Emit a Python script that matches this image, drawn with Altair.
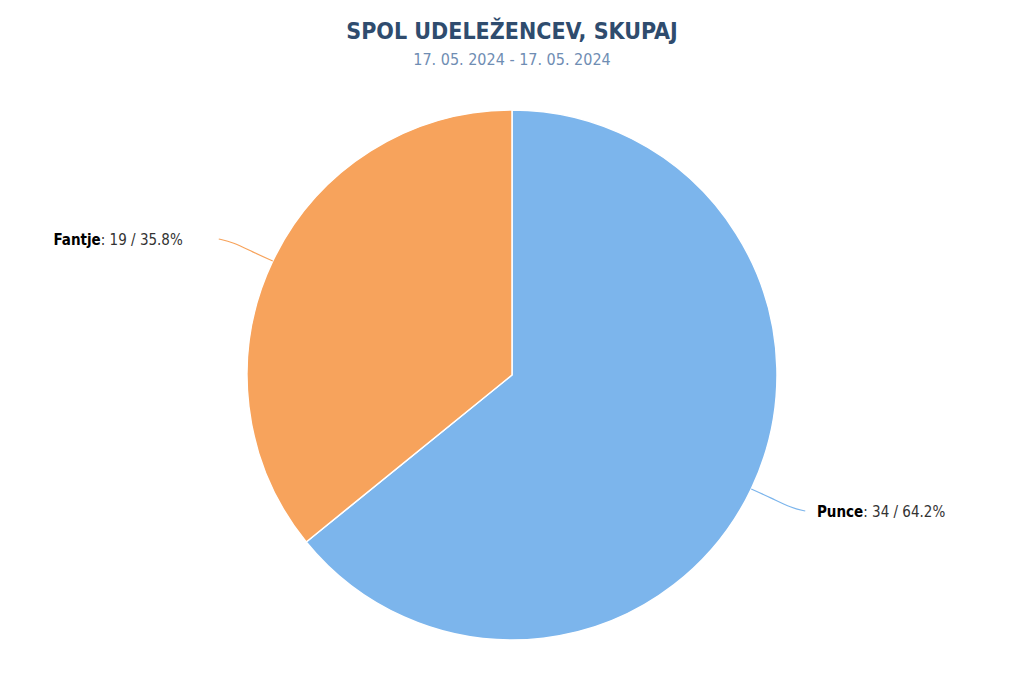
import math
import altair as alt
import pandas as pd

# ---- data ----
categories = ["Punce", "Fantje"]
counts = [34, 19]
percents = ["64.2%", "35.8%"]
colors = ["#7cb5ec", "#f7a35c"]

title_text = "SPOL UDELEŽENCEV, SKUPAJ"
subtitle_text = "17. 05. 2024 - 17. 05. 2024"

FONT = "Liberation Sans Narrow, DejaVu Sans Condensed, sans-serif"

W, H = 1008, 667
CX, CY, R = 504, 367, 265

total = sum(counts)
pie_df = pd.DataFrame({"cat": categories, "n": counts, "ord": list(range(len(categories)))})

pie = alt.Chart(pie_df).mark_arc(stroke="white", strokeWidth=1.5).encode(
    theta=alt.Theta("n:Q", stack=True),
    order=alt.Order("ord:Q"),
    color=alt.Color("cat:N", scale=alt.Scale(domain=categories, range=colors), legend=None),
    x=alt.value(CX), y=alt.value(CY), radius=alt.value(R),
)

# ---- connectors computed from slice mid-angles ----
rows = []
lab_rows = []
cum = 0
for i, (c, n, p) in enumerate(zip(categories, counts, percents)):
    a0 = cum / total * 2 * math.pi
    cum += n
    a1 = cum / total * 2 * math.pi
    am = (a0 + a1) / 2
    sx, sy = math.sin(am), -math.cos(am)
    ex, ey = CX + R * sx, CY + R * sy
    side = 1 if sx > 0 else -1
    vs = 1 if sy > 0 else -1
    p1 = (ex + side * 20, ey + 9 * vs)
    p2 = (ex + side * 40, ey + 19 * vs)
    p3 = (ex + side * 54, ey + 22 * vs)
    for k, (px, py) in enumerate([(ex, ey), p1, p2, p3]):
        rows.append({"cat": c, "k": k, "x": px, "y": py})
    ly = p3[1] + 1
    split = p3[0] + 58 if side > 0 else p3[0] - 118
    lab_rows.append({"cat": c, "bold": c, "rest": f": {n} / {p}", "split": split, "y": ly})

conn_df = pd.DataFrame(rows)
lab_df = pd.DataFrame(lab_rows)

xs = alt.Scale(domain=[0, W], range=[0, W], nice=False, zero=False)
ys = alt.Scale(domain=[0, H], range=[0, H], nice=False, zero=False)

conn = alt.Chart(conn_df).mark_line(strokeWidth=1.2, interpolate="basis").encode(
    x=alt.X("x:Q", scale=xs, axis=None),
    y=alt.Y("y:Q", scale=ys, axis=None),
    detail="cat:N",
    order="k:Q",
    color=alt.Color("cat:N", scale=alt.Scale(domain=categories, range=colors), legend=None),
)

bold_t = alt.Chart(lab_df).mark_text(
    align="right", baseline="middle", font=FONT, fontSize=15, fontWeight="bold", color="#000000"
).encode(x=alt.X("split:Q", scale=xs, axis=None), y=alt.Y("y:Q", scale=ys, axis=None), text="bold:N")

rest_t = alt.Chart(lab_df).mark_text(
    align="left", baseline="middle", font=FONT, fontSize=15, color="#333333"
).encode(x=alt.X("split:Q", scale=xs, axis=None), y=alt.Y("y:Q", scale=ys, axis=None), text="rest:N")

title_df = pd.DataFrame({"t": [title_text], "s": [subtitle_text]})
title_m = alt.Chart(title_df).mark_text(
    align="center", baseline="middle", font=FONT, fontSize=23, fontWeight="bold", color="#2f4c6e"
).encode(x=alt.value(CX), y=alt.value(24), text="t:N")
sub_m = alt.Chart(title_df).mark_text(
    align="center", baseline="middle", font=FONT, fontSize=16, color="#6f8db3"
).encode(x=alt.value(CX), y=alt.value(52), text="s:N")

chart = alt.layer(pie, conn, bold_t, rest_t, title_m, sub_m).properties(
    width=W, height=H, autosize=alt.AutoSizeParams(type="none"), padding=0,
    background="white",
).resolve_scale(color="independent").configure_view(
    stroke=None, strokeWidth=0
)

chart.save("out.html", embed_options={"renderer": "svg", "actions": False})
